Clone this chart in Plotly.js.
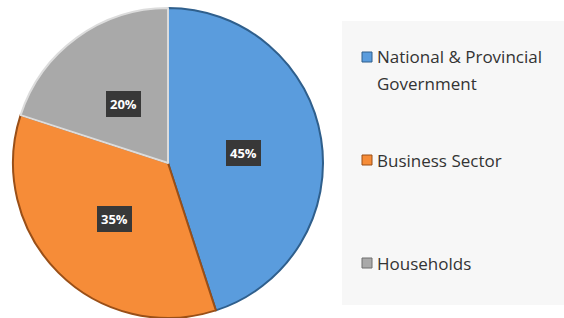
<!DOCTYPE html>
<html>
<head>
<meta charset="utf-8">
<script src="https://cdn.plot.ly/plotly-3.0.1.min.js"></script>
<style>html,body{margin:0;padding:0;background:#fff;}#chart{width:564px;height:318px;}</style>
</head>
<body>
<div id="chart"></div>
<script>
// ---- data ----
const categories = ["National & Provincial<br>Government", "Business Sector", "Households"];
const shares = [45, 35, 20];
const pctLabels = ["45%", "35%", "20%"];
const sliceColors = ["#5a9cdd", "#f68c38", "#a9a9a9"];
const edgeColors = ["#2f5f8c", "#9a4f17", "#dcdcdc"];

// ---- geometry helpers ----
const W = 564, H = 318;
const px = x => x / W;
const py = y => 1 - y / H;
const cxPx = 168, cyPx = 163, rPx = 155;
const domX = [px(cxPx - rPx), px(cxPx + rPx)];
const domY = [py(cyPx + rPx), py(cyPx - rPx)];

const trace = {
  type: "pie",
  labels: categories,
  values: shares,
  sort: false,
  direction: "clockwise",
  rotation: 0,
  textinfo: "none",
  hoverinfo: "skip",
  showlegend: false,
  marker: { colors: sliceColors, line: { color: edgeColors, width: 2 } },
  domain: { x: domX, y: [Math.max(0, domY[0]), Math.min(1, domY[1])] }
};

const annotations = [];
const shapes = [];

// legend panel
shapes.push({ type: "rect", xref: "paper", yref: "paper", x0: px(342), x1: 1, y0: py(305), y1: py(21),
  fillcolor: "#f7f7f7", line: { width: 0 }, layer: "below" });

// percentage labels placed at slice mid-angles
const total = shares.reduce((a, b) => a + b, 0);
let cum = 0;
shares.forEach((v, i) => {
  const mid = (cum + v / 2) / total * 2 * Math.PI;
  cum += v;
  const d = 0.49 * rPx;
  const x = cxPx + d * Math.sin(mid);
  const y = cyPx - d * Math.cos(mid) + 2;
  annotations.push({ xref: "paper", yref: "paper", x: px(x), y: py(y), xanchor: "center", yanchor: "middle",
    text: "<b>" + pctLabels[i] + "</b>", showarrow: false,
    font: { family: "Open Sans, sans-serif", size: 13, color: "#ffffff" },
    bgcolor: "#383838", borderpad: 4, borderwidth: 0 });
});

// custom legend
const legendY = [57, 160, 263];
const lineGap = 26;
categories.forEach((c, i) => {
  const lines = c.split("<br>");
  lines.forEach((ln, j) => {
    annotations.push({ xref: "paper", yref: "paper", x: px(375), y: py(legendY[i] + j * lineGap),
      xanchor: "left", yanchor: "middle", text: ln, showarrow: false,
      font: { family: "Open Sans, sans-serif", size: 17, color: "#333333" } });
  });
  shapes.push({ type: "rect", xref: "paper", yref: "paper",
    x0: px(362), x1: px(372), y0: py(legendY[i] + 5), y1: py(legendY[i] - 5),
    fillcolor: sliceColors[i], line: { color: edgeColors[i] === "#dcdcdc" ? "#6f6f6f" : edgeColors[i], width: 1 } });
});

const layout = {
  width: W, height: H,
  margin: { l: 0, r: 0, t: 0, b: 0 },
  paper_bgcolor: "#ffffff",
  showlegend: false,
  annotations: annotations,
  shapes: shapes
};

Plotly.newPlot("chart", [trace], layout, { displayModeBar: false, staticPlot: true });
</script>
</body>
</html>
